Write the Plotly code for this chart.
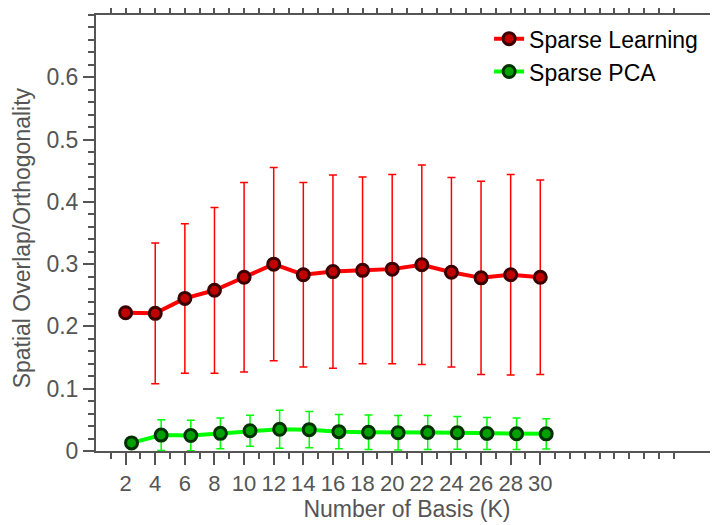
import plotly.graph_objects as go

# ---- data ----
k_learning = [2, 4, 6, 8, 10, 12, 14, 16, 18, 20, 22, 24, 26, 28, 30]
y_learning = [0.222, 0.221, 0.245, 0.258, 0.279, 0.300, 0.283, 0.288, 0.290, 0.292, 0.299, 0.287, 0.278, 0.283, 0.279]
e_learning = [0.0, 0.113, 0.120, 0.133, 0.152, 0.155, 0.148, 0.155, 0.150, 0.152, 0.160, 0.152, 0.155, 0.161, 0.156]

k_pca = [2.4, 4.4, 6.4, 8.4, 10.4, 12.4, 14.4, 16.4, 18.4, 20.4, 22.4, 24.4, 26.4, 28.4, 30.4]
y_pca = [0.013, 0.0255, 0.0248, 0.0283, 0.0325, 0.0348, 0.0343, 0.0311, 0.0302, 0.0293, 0.0296, 0.0292, 0.0282, 0.0276, 0.0275]
e_pca = [0.0, 0.0247, 0.0245, 0.0247, 0.0249, 0.0305, 0.0292, 0.0276, 0.0276, 0.0276, 0.0273, 0.0262, 0.0257, 0.0252, 0.0244]

x_tickvals = [2, 4, 6, 8, 10, 12, 14, 16, 18, 20, 22, 24, 26, 28, 30]
x_minorvals = [1, 3, 5, 7, 9, 11, 13, 15, 17, 19, 21, 23, 25, 27, 29, 31, 32, 33, 34, 35, 36, 37, 38, 39]
y_tickvals = [0, 0.1, 0.2, 0.3, 0.4, 0.5, 0.6]
y_ticktext = ["0", "0.1", "0.2", "0.3", "0.4", "0.5", "0.6"]

FONT = "Liberation Sans, Arial, sans-serif"
AX = "#555555"

fig = go.Figure()
fig.add_trace(go.Scatter(
    x=k_learning, y=y_learning, name="Sparse Learning", mode="lines+markers",
    line=dict(color="#ff0000", width=4),
    marker=dict(color="#c00000", size=12, line=dict(color="#3a0000", width=3)),
    error_y=dict(type="data", array=e_learning, color="#ff0000", thickness=1.5, width=4),
))
fig.add_trace(go.Scatter(
    x=k_pca, y=y_pca, name="Sparse PCA", mode="lines+markers",
    line=dict(color="#00ff00", width=4),
    marker=dict(color="#00a000", size=12, line=dict(color="#003000", width=3)),
    error_y=dict(type="data", array=e_pca, color="#00ff00", thickness=1.5, width=4),
))

# page body has an 8px margin, so the figure is sized to fill the rest of the window
fig.update_layout(
    width=710, height=517,
    margin=dict(l=88, r=0, t=7, b=74, autoexpand=False),
    paper_bgcolor="white", plot_bgcolor="white",
    font=dict(family=FONT, size=23, color=AX),
    showlegend=True,
    legend=dict(x=0.632, y=0.995, xanchor="left", yanchor="top",
                bgcolor="rgba(0,0,0,0)", font=dict(size=23, color="black"),
                tracegroupgap=0),
    xaxis=dict(
        range=[0, 42], tickmode="array", tickvals=x_tickvals,
        showgrid=False, zeroline=False, automargin=False,
        showline=True, linecolor=AX, linewidth=2, mirror="ticks",
        ticks="outside", ticklen=12, tickwidth=2, tickcolor=AX,
        tickfont=dict(size=22, color=AX),
        title=dict(text="Number of Basis (K)", font=dict(size=23, color=AX), standoff=4),
        minor=dict(tickmode="array", tickvals=x_minorvals, ticks="outside",
                   ticklen=6, tickwidth=2, tickcolor=AX, showgrid=False),
    ),
    yaxis=dict(
        range=[0, 0.7], tickmode="array", tickvals=y_tickvals, ticktext=y_ticktext,
        showgrid=False, zeroline=False, automargin=False,
        showline=True, linecolor=AX, linewidth=2,
        ticks="outside", ticklen=11, tickwidth=2, tickcolor=AX,
        tickfont=dict(size=23, color=AX),
        minor=dict(dtick=0.02, ticks="outside", ticklen=6, tickwidth=2, tickcolor=AX, showgrid=False),
    ),
    annotations=[dict(
        text="Spatial Overlap/Orthogonality", textangle=-90,
        xref="paper", yref="paper", x=-0.119, y=0.49,
        xanchor="center", yanchor="middle", showarrow=False,
        font=dict(size=23, color=AX),
    )],
)

fig.write_html("out.html")
